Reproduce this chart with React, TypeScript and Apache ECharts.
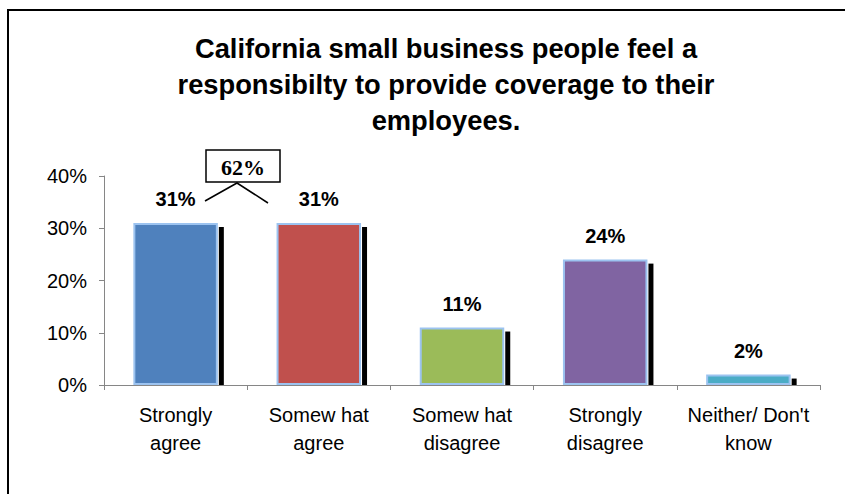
import React, { useEffect, useRef } from "react";
import * as echarts from "echarts";

const categories = ["Strongly\nagree", "Somew hat\nagree", "Somew hat\ndisagree", "Strongly\ndisagree", "Neither/ Don't\nknow"];
const values = [31, 31, 11, 24, 2];
const barColors = ["#4F81BD", "#C0504D", "#9BBB59", "#8064A2", "#4BACC6"];
const titleText = "California small business people feel a\nresponsibilty to provide coverage to their\nemployees.";
const combinedLabel = "62%";

export default function App() {
  const ref = useRef<HTMLDivElement>(null);
  useEffect(() => {
    if (!ref.current) return;
    const chart = echarts.init(ref.current, null, { renderer: "svg" });
    const font = "'Liberation Sans', Arial, sans-serif";
    chart.setOption({
      animation: false,
      backgroundColor: "#fff",
      title: {
        text: titleText,
        left: 441,
        top: 25,
        textAlign: "center",
        textStyle: { fontFamily: font, fontWeight: "bold", fontSize: 27.3, lineHeight: 36, color: "#000" },
      },
      grid: { left: 104, right: 25, top: 176, bottom: 109 },
      xAxis: {
        type: "category",
        data: categories,
        axisLine: { lineStyle: { color: "#868686", width: 1 } },
        axisTick: { show: true, length: 5, lineStyle: { color: "#868686" } },
        axisLabel: { interval: 0, margin: 16, color: "#000", fontFamily: font, fontSize: 20, lineHeight: 28 },
      },
      yAxis: {
        type: "value",
        min: 0,
        max: 40,
        interval: 10,
        axisLine: { show: true, lineStyle: { color: "#868686", width: 1 } },
        axisTick: { show: true, length: 5, lineStyle: { color: "#868686" } },
        splitLine: { show: false },
        axisLabel: { formatter: "{value}%", margin: 17, color: "#000", fontFamily: font, fontSize: 20 },
      },
      series: [
        {
          type: "custom",
          z: 1,
          silent: true,
          data: values.map((v, i) => [i, v]),
          encode: { x: 0, y: 1 },
          renderItem: (params: any, api: any) => {
            const idx = api.value(0);
            const v = api.value(1);
            const top = api.coord([idx, v]);
            const base = api.coord([idx, 0]);
            const band = api.size([1, 0])[0];
            const bw = band * 0.59;
            const right = top[0] + bw / 2 + 1;
            return {
              type: "rect",
              shape: { x: right, y: top[1] + 4, width: 5, height: base[1] - top[1] - 4 },
              style: { fill: "#000" },
            };
          },
        },
        {
          type: "bar",
          z: 2,
          barWidth: "59%",
          data: values.map((v, i) => ({ value: v, itemStyle: { color: barColors[i] } })),
          itemStyle: { borderColor: "#9CC3F0", borderWidth: 2 },
          label: {
            show: true,
            position: "top",
            distance: 14,
            formatter: "{c}%",
            color: "#000",
            fontFamily: font,
            fontWeight: "bold",
            fontSize: 20,
          },
        },
      ],
      graphic: [
        {
          type: "rect",
          silent: true,
          z: 0,
          shape: { x: 8, y: 10, width: 900, height: 600 },
          style: { fill: "none", stroke: "#000", lineWidth: 2 },
        },
        {
          type: "polyline",
          silent: true,
          shape: { points: [[205, 201], [237, 183], [268, 203]] },
          style: { fill: "none", stroke: "#000", lineWidth: 1.5 },
        },
        {
          type: "rect",
          silent: true,
          shape: { x: 206, y: 150, width: 74, height: 32 },
          style: { fill: "#fff", stroke: "#000", lineWidth: 1.5 },
        },
        {
          type: "text",
          silent: true,
          x: 243,
          y: 167,
          style: {
            text: combinedLabel,
            fill: "#000",
            font: "bold 22px 'Liberation Serif', 'Times New Roman', serif",
            align: "center",
            verticalAlign: "middle",
          },
        },
      ],
    });
    return () => chart.dispose();
  }, []);
  return <div ref={ref} style={{ position: "absolute", left: 0, top: 0, width: 845, height: 494 }} />;
}
